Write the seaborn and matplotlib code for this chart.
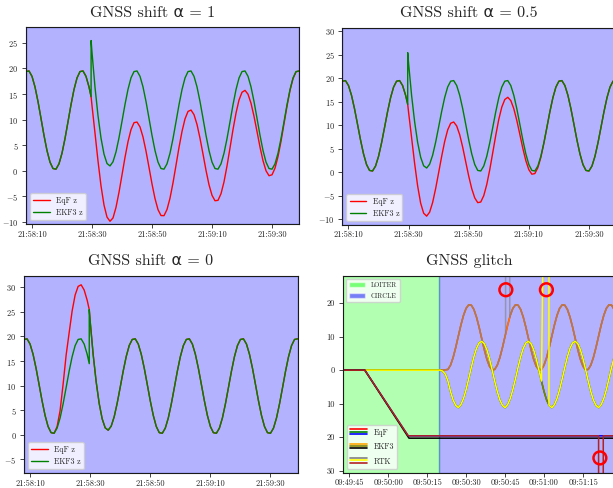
import matplotlib
matplotlib.use("Agg")
import matplotlib.pyplot as plt
import matplotlib.dates as mdates
import pandas as pd
import seaborn as sns
from matplotlib.lines import Line2D
from matplotlib.patches import Patch
from matplotlib.legend_handler import HandlerBase

# ---- GNSS shift runs: seconds after 21:58:10, glitch sample doubled at 19.7 s ----
t_shift = list(range(-2, 20)) + [19.7, 19.7] + list(range(20, 90))

ekf3_z = [19.39, 19.51, 18.46, 16.39, 13.53, 10.24, 6.90, 3.93, 1.67, 0.41, 0.29,
          1.34, 3.41, 6.27, 9.56, 12.90, 15.87, 18.13, 19.39, 19.51, 18.46, 16.39,
          14.46, 25.46,
          23.13, 16.33, 10.77, 6.38, 3.23, 1.40, 0.92, 1.74, 3.66, 6.43, 9.66, 12.96, 15.91, 18.16, 19.39,
          19.51, 18.46, 16.39, 13.53, 10.24, 6.90, 3.93, 1.67, 0.41, 0.29, 1.34, 3.41, 6.27, 9.56, 12.90, 15.87, 18.13, 19.39,
          19.51, 18.46, 16.39, 13.53, 10.24, 6.90, 3.93, 1.67, 0.41, 0.29, 1.34, 3.41, 6.27, 9.56, 12.90, 15.87, 18.13, 19.39,
          19.51, 18.46, 16.39, 13.53, 10.24, 6.90, 3.93, 1.67, 0.41, 0.29, 1.34, 3.41, 6.27, 9.56, 12.90, 15.87, 18.13, 19.39,
          19.51]

eqf_z_a1 = [19.39, 19.51, 18.46, 16.39, 13.53, 10.24, 6.90, 3.93, 1.67, 0.41, 0.29,
            1.34, 3.41, 6.27, 9.56, 12.90, 15.87, 18.13, 19.39, 19.51, 18.46, 16.39,
            14.46, 14.46,
            12.73, 7.34, 1.90, -2.97, -6.73, -9.09, -9.91, -9.26, -7.19, -4.23, -0.84, 2.60, 5.67, 8.03, 9.39,
            9.51, 8.56, 6.59, 3.83, 0.64, -2.60, -5.47, -7.63, -8.79, -8.81, -7.61, -5.39, -2.38, 1.06, 4.55, 7.67, 10.13, 11.59,
            11.86, 10.96, 9.04, 6.33, 3.24, 0.05, -2.77, -4.83, -5.89, -5.81, -4.51, -2.19, 0.92, 4.46, 8.05, 11.27, 13.83, 15.34,
            15.71, 14.96, 13.19, 10.63, 7.64, 4.60, 1.93, -0.03, -0.99, -0.81, 0.49, 2.76, 5.77, 9.21, 12.65, 15.72, 18.03, 19.34,
            19.51]

eqf_z_a05 = [19.39, 19.51, 18.46, 16.39, 13.53, 10.24, 6.90, 3.93, 1.67, 0.41, 0.29,
             1.34, 3.41, 6.27, 9.56, 12.90, 15.87, 18.13, 19.39, 19.51, 18.46, 16.39,
             14.46, 14.46,
             12.73, 7.34, 1.90, -2.87, -6.53, -8.69, -9.31, -8.46, -6.39, -3.43, -0.04, 3.40, 6.57, 9.03, 10.44,
             10.71, 9.86, 7.99, 5.33, 2.24, -0.80, -3.47, -5.43, -6.44, -6.31, -4.96, -2.59, 0.57, 4.21, 7.90, 11.27, 13.88, 15.49,
             15.96, 15.26, 13.54, 11.03, 8.09, 5.10, 2.48, 0.57, -0.39, -0.26, 0.99, 3.21, 6.17, 9.51, 12.90, 15.87, 18.13, 19.39,
             19.51, 18.46, 16.39, 13.53, 10.24, 6.90, 3.93, 1.67, 0.41, 0.29, 1.34, 3.41, 6.27, 9.56, 12.90, 15.87, 18.13, 19.39,
             19.51]

eqf_z_a0 = [19.39, 19.51, 18.46, 16.39, 13.53, 10.24, 6.90, 3.93, 1.67, 0.41, 0.29,
            1.64, 4.91, 10.27, 16.16, 20.70, 25.17, 28.43, 30.19, 30.51, 29.46, 27.39,
            25.46, 25.46,
            23.13, 16.33, 10.77, 6.38, 3.23, 1.40, 0.92, 1.74, 3.66, 6.43, 9.66, 12.96, 15.91, 18.16, 19.39,
            19.51, 18.46, 16.39, 13.53, 10.24, 6.90, 3.93, 1.67, 0.41, 0.29, 1.34, 3.41, 6.27, 9.56, 12.90, 15.87, 18.13, 19.39,
            19.51, 18.46, 16.39, 13.53, 10.24, 6.90, 3.93, 1.67, 0.41, 0.29, 1.34, 3.41, 6.27, 9.56, 12.90, 15.87, 18.13, 19.39,
            19.51, 18.46, 16.39, 13.53, 10.24, 6.90, 3.93, 1.67, 0.41, 0.29, 1.34, 3.41, 6.27, 9.56, 12.90, 15.87, 18.13, 19.39,
            19.51]

shift_titles = ["GNSS shift α = 1", "GNSS shift α = 0.5", "GNSS shift α = 0"]
shift_ylims = [(-10.5, 28.06), (-11.2, 30.8), (-7.86, 32.36)]

# ---- GNSS glitch run: seconds after 09:49:45 ----
mode_t = [-2.5, 34.6, 102.8]     # LOITER -> CIRCLE -> end

t_x = [-2.5] + list(range(36, 104))
glitch_x = [0.0, 0.0,
            0.10, 0.21, 1.49, 3.77, 6.77, 10.14, 13.47, 16.36, 18.45, 19.50, 19.39, 18.11, 15.83, 12.83, 9.46, 6.13, 3.24, 1.15,
            0.10, 0.21, 1.49, 3.77, 6.77, 10.14, 13.47, 16.36, 18.45, 19.50, 19.39, 18.11, 15.83, 12.83, 9.46, 6.13, 3.24, 1.15,
            0.10, 0.21, 1.49, 3.77, 6.77, 10.14, 13.47, 16.36, 18.45, 19.50, 19.39, 18.11, 15.83, 12.83, 9.46, 6.13, 3.24, 1.15,
            0.10, 0.21, 1.49, 3.77, 6.77, 10.14, 13.47, 16.36, 18.45, 19.50, 19.39, 18.11, 15.83]

t_y = [-2.5] + list(range(35, 104))
glitch_y = [0.0, 0.0, -0.3, -1.2,
            -3.24, -6.39, -8.92, -10.52, -11.19, -10.29, -8.48, -5.80, -2.56, 0.84, 3.99, 6.52, 8.12, 8.59, 7.89, 6.08, 3.40,
            0.16, -3.24, -6.39, -8.92, -10.52, -11.19, -10.29, -8.48, -5.80, -2.56, 0.84, 3.99, 6.52, 8.12, 8.59, 7.89, 6.08, 3.40,
            0.16, -3.24, -6.39, -8.92, -10.52, -11.19, -10.29, -8.48, -5.80, -2.56, 0.84, 3.99, 6.52, 8.12, 8.59, 7.89, 6.08, 3.40,
            0.16, -3.24, -6.39, -8.92, -10.52, -11.19, -10.29, -8.48, -5.80, -2.56, 0.84, 3.99, 6.52]

t_z = [-2.5, 6.0, 22.7, 102.8]
eqf_gz = [0.0, 0.0, -19.6, -19.6]
ekf3_gz_t = [-2.5, 6.0, 23.0, 102.8]
ekf3_gz = [0.0, 0.0, -20.3, -20.3]
rtk_gz_t = [-2.5, 6.0, 22.7, 96.0, 96.0, 97.8, 97.8, 102.8]
rtk_gz = [0.0, 0.0, -19.6, -19.6, -60.0, -60.0, -19.6, -19.6]

# RTK x / y outages (off-scale jumps)
rtk_x_spike_t = [60.2, 60.2, 61.8, 61.8]
rtk_x_spike = [10.8, 60.0, 60.0, 15.8]
rtk_y_spike_t = [75.0, 76.9, 76.9]
rtk_y_spike = [60.0, 60.0, -10.4]

glitch_mark_t = [60.3, 75.9, 96.5]
glitch_mark_v = [24.0, 24.0, -26.2]

glitch_yticks = [20, 10, 0, -10, -20, -30]
glitch_yticklabels = ["20", "10", "0", "10", "20", "30"]


def splice(ts, vs, seg_t, seg_v):
    # drop the samples covered by the outage and put the jump in their place
    a, b = seg_t[0], seg_t[-1]
    head = [(t, v) for t, v in zip(ts, vs) if t < a]
    tail = [(t, v) for t, v in zip(ts, vs) if t > b]
    pts = head + list(zip(seg_t, seg_v)) + tail
    return [p[0] for p in pts], [p[1] for p in pts]


rtk_x_t, rtk_x = splice(t_x, glitch_x, rtk_x_spike_t, rtk_x_spike)
rtk_y_t, rtk_y = splice(t_y, glitch_y, rtk_y_spike_t, rtk_y_spike)

sns.set_style("ticks")
plt.rcParams["font.family"] = ["cmr10", "DejaVu Sans"]
plt.rcParams["mathtext.fontset"] = "cm"
plt.rcParams["axes.formatter.use_mathtext"] = True
plt.rcParams["axes.edgecolor"] = "0.1"
plt.rcParams["xtick.major.size"] = 3
plt.rcParams["ytick.major.size"] = 3
plt.rcParams["xtick.major.width"] = 0.6
plt.rcParams["ytick.major.width"] = 0.6
plt.rcParams["xtick.major.pad"] = 1.2
plt.rcParams["ytick.major.pad"] = 2.5
plt.rcParams["xtick.labelsize"] = 6
plt.rcParams["ytick.labelsize"] = 6

fig = plt.figure(figsize=(6.13, 4.88), dpi=100)
axes = [fig.add_axes([0.0424, 0.5404, 0.4454, 0.4037]),
        fig.add_axes([0.5587, 0.5389, 0.4462, 0.4047]),
        fig.add_axes([0.0392, 0.0301, 0.4462, 0.4049])]
ax_g = fig.add_axes([0.5591, 0.0314, 0.4462, 0.4037])

t0_shift = pd.Timestamp("2023-03-02 21:58:10")
tt = t0_shift + pd.to_timedelta(t_shift, unit="s")

for ax, eqf, title, ylim in zip(axes, [eqf_z_a1, eqf_z_a05, eqf_z_a0], shift_titles, shift_ylims):
    ax.axvspan(tt[0], tt[-1], color="blue", alpha=0.3)
    sns.lineplot(x=tt, y=eqf, ax=ax, color="red", linewidth=1, label="EqF z",
                 estimator=None, sort=False)
    sns.lineplot(x=tt, y=ekf3_z, ax=ax, color="green", linewidth=1, label="EKF3 z",
                 estimator=None, sort=False)
    ax.set_xlim(tt[0], tt[-1])
    ax.set_ylim(*ylim)
    ax.xaxis.set_major_locator(mdates.SecondLocator(bysecond=[10, 30, 50]))
    ax.xaxis.set_major_formatter(mdates.DateFormatter("%H:%M:%S"))
    ax.set_xlabel("")
    ax.set_ylabel("")
    ax.set_title(title, fontsize=11.5, x=0.463, pad=7.5)
    ax.legend(loc="lower left", fontsize=5.7, handlelength=2.1)

# ---- glitch panel ----
t0_gl = pd.Timestamp("2023-03-02 09:49:45")


def ts(v):
    return t0_gl + pd.to_timedelta(v, unit="s")


ax_g.axvspan(ts(mode_t[0]), ts(mode_t[1]), color="lime", alpha=0.3)
ax_g.axvspan(ts(mode_t[1]), ts(mode_t[2]), color="blue", alpha=0.3)

series = [
    (t_x, glitch_x, "red", 1.0), (t_x, glitch_x, "orange", 0.7), (rtk_x_t, rtk_x, "gray", 0.6),
    (t_y, glitch_y, "green", 1.0), (t_y, glitch_y, "olive", 1.0), (rtk_y_t, rtk_y, "yellow", 1.0),
    (t_z, eqf_gz, "blue", 1.0), (ekf3_gz_t, ekf3_gz, "black", 1.0), (rtk_gz_t, rtk_gz, "firebrick", 1.0),
]
for tv, vals, col, al in series:
    sns.lineplot(x=ts(tv), y=vals, ax=ax_g, color=col, alpha=al, linewidth=1.1,
                 estimator=None, sort=False)

sns.scatterplot(x=ts(glitch_mark_t), y=glitch_mark_v, ax=ax_g, marker="o", s=85,
                facecolor="none", edgecolor="red", linewidth=1.8, zorder=5)

ax_g.set_xlim(ts(mode_t[0]), ts(mode_t[2]))
ax_g.set_ylim(-30.6, 28.2)
ax_g.set_yticks(glitch_yticks)
ax_g.set_yticklabels(glitch_yticklabels)
ax_g.xaxis.set_major_locator(mdates.SecondLocator(bysecond=[0, 15, 30, 45]))
ax_g.xaxis.set_major_formatter(mdates.DateFormatter("%H:%M:%S"))
ax_g.set_xlabel("")
ax_g.set_ylabel("")
ax_g.set_title("GNSS glitch", fontsize=11.5, x=0.463, pad=7.5)


class StackedLines(HandlerBase):
    def create_artists(self, legend, orig_handle, xdescent, ydescent, width, height, fontsize, trans):
        arts = []
        mid = (height - ydescent) / 2
        for i, h in enumerate(orig_handle):
            y = mid + (1 - i) * 1.7
            arts.append(Line2D([-xdescent, width - xdescent], [y, y], color=h.get_color(),
                               linewidth=1.2, transform=trans))
        return arts


mode_leg = ax_g.legend(handles=[Patch(facecolor="lime", alpha=0.5, label="LOITER"),
                                Patch(facecolor="blue", alpha=0.5, label="CIRCLE")],
                       loc="upper left", fontsize=4.9, handlelength=2.4, labelspacing=0.85)
ax_g.add_artist(mode_leg)
groups = [("EqF", ["red", "green", "blue"]),
          ("EKF3", ["orange", "olive", "black"]),
          ("RTK", ["gray", "yellow", "firebrick"])]
handles = [tuple(Line2D([], [], color=c) for c in cols) for _, cols in groups]
ax_g.legend(handles=handles, labels=[g[0] for g in groups], loc="lower left",
            fontsize=5.7, handlelength=2.2, handleheight=1.2, labelspacing=0.7,
            handler_map={tuple: StackedLines()})

fig.savefig("out.png", dpi=100)
